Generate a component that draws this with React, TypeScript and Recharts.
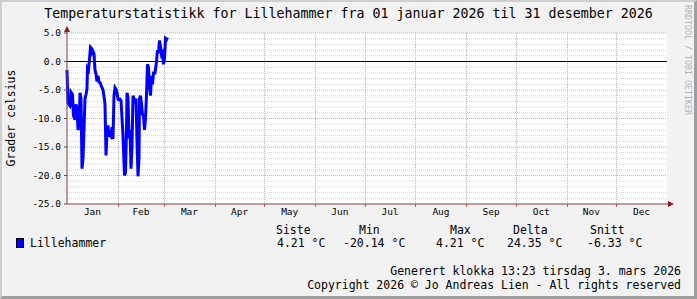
import React from 'react'
import { LineChart, Line, XAxis, YAxis, ReferenceLine, ReferenceDot, ReferenceArea } from 'recharts'

// day of year (0 = 1 Jan) and consolidated temperature readings
const days = [
  0, 0.3, 0.61, 1.83, 2.13, 2.43, 3.35, 3.95, 4.87, 5.48, 6.08, 6.69, 7.3, 7.91, 8.52, 9.13, 9.73,
  10.34, 10.95, 11.56, 12.17, 12.47, 13.08, 13.69, 14.3, 14.9, 15.21, 15.82, 16.43, 17.03, 17.64,
  18.25, 18.86, 19.47, 20.08, 21.29, 21.9, 22.81, 23.12, 23.73, 24.33, 24.94, 25.55, 26.16, 26.77,
  27.38, 27.98, 28.59, 29.2, 29.81, 30.42, 31.03, 31.63, 32.24, 32.85, 34.07, 34.98, 35.59, 36.2,
  36.5, 37.11, 37.72, 38.33, 38.93, 39.54, 40.15, 40.76, 41.37, 41.98, 42.58, 43.19, 43.8, 44.1,
  44.71, 45.32, 45.93, 46.54, 47.15, 47.75, 48.36, 48.97, 49.58, 50.19, 50.8, 51.4, 52.01, 52.62,
  53.53, 54.45, 55.06, 55.66, 56.27, 56.88, 57.49, 58.1, 58.71, 59.31, 59.92, 60.53, 61.14,
]
const temps = [
  -1.5, -4.5, -7.3, -7.8, -7.5, -5.4, -5.8, -9.5, -10.2, -7.5, -8.2, -12, -11.5, -5.5, -6.5, -18.8, -17,
  -12, -6.5, -5.8, -4.8, -1.2, -1.5, 0.5, 2.5, 2.3, 1.5, 1.8, 1.4, -1.5, -2.2,
  -3.5, -2.5, -3.6, -3.7, -4.6, -5.0, -6.7, -7.5, -16.5, -12.5, -11.2, -13, -13, -13.2,
  -11.5, -13.6, -6, -4.6, -4.9, -5.5, -6.6, -6.7, -6.6, -6.8, -13, -20, -19.5, -12,
  -5.5, -6.3, -13.5, -12, -18.8, -15, -6, -6.5, -7.3, -6.5, -14, -20.14, -17, -6.5,
  -6, -7.5, -9.3, -9.6, -12, -10, -5.8, -0.5, -1, -4.5, -6, -2.5, -4, -2,
  -2, 0, 2, 1.5, 3.7, 2.5, 1.2, 1.5, -0.5, 0.5, 4, 3.8, 4.21,
]

const monthStarts = [0, 31, 59, 90, 120, 151, 181, 212, 243, 273, 304, 334]
const monthMids = [15.5, 45, 74.5, 105, 135.5, 166, 196.5, 227.5, 258, 288.5, 319, 349.5]
const monthNames = ['Jan', 'Feb', 'Mar', 'Apr', 'May', 'Jun', 'Jul', 'Aug', 'Sep', 'Oct', 'Nov', 'Dec']
const majorTicks = [-25, -20, -15, -10, -5, 0, 5]
const minorTicks = [
  -24, -23, -22, -21, -19, -18, -17, -16, -14, -13, -12, -11, -9, -8, -7, -6, -4, -3, -2, -1, 1, 2, 3, 4,
]

const statHeaders = ['Siste', 'Min', 'Max', 'Delta', 'Snitt']
const statValues = ['4.21 °C', '-20.14 °C', '4.21 °C', '24.35 °C', '-6.33 °C']
const headerX = [276, 359, 450, 513, 590]
const valueX = [277, 343, 436, 507, 587]

const data = days.map((d, i) => ({ day: d, temp: temps[i] }))

const FONT = '"DejaVu Sans Mono", monospace'
const AXIS = '#7a4040'
const ARROW = '#8b1c1c'
const MGRID = '#eba0a0'
const GRID = '#d6d6d6'

const UpArrow = (props: any) => {
  const { cx, cy } = props
  return (
    <g>
      <line x1={cx} y1={cy} x2={cx} y2={cy - 3} stroke={AXIS} />
      <polygon points={`${cx - 3},${cy - 1} ${cx + 3},${cy - 1} ${cx},${cy - 7}`} fill={ARROW} />
    </g>
  )
}

const RightArrow = (props: any) => {
  const { cx, cy } = props
  return (
    <g>
      <line x1={cx} y1={cy} x2={cx + 2} y2={cy} stroke={AXIS} />
      <polygon points={`${cx + 1},${cy - 3} ${cx + 1},${cy + 3} ${cx + 7},${cy}`} fill={ARROW} />
    </g>
  )
}

// month grid line: a thin reference area drawn as a dotted line on its left edge
const MonthLine = (props: any) => {
  const { x, y, height } = props
  const px = Math.round(x) + 0.5
  return (
    <g>
      <line x1={px} x2={px} y1={y} y2={y + height} stroke={MGRID} strokeDasharray="1 1" />
      <line x1={px} x2={px} y1={y + height} y2={y + height + 3} stroke="#c86060" />
    </g>
  )
}

const txt = (left: number, top: number, s: string, size = 11.5, extra: React.CSSProperties = {}) => (
  <div
    style={{
      position: 'absolute',
      left,
      top,
      fontFamily: FONT,
      fontSize: size,
      lineHeight: '13px',
      whiteSpace: 'pre',
      color: '#000',
      ...extra,
    }}
  >
    {s}
  </div>
)

export default function App() {
  return (
    <div
      style={{
        position: 'absolute',
        left: 0,
        top: 0,
        width: 697,
        height: 299,
        background: '#f2f2f2',
        overflow: 'hidden',
      }}
    >
      {/* white canvas behind the plot area */}
      <div style={{ position: 'absolute', left: 67, top: 33, width: 600, height: 171, background: '#ffffff' }} />

      <LineChart width={697} height={299} data={data} margin={{ top: 33, right: 30, bottom: 74, left: 0 }}>
        <XAxis
          xAxisId="a"
          dataKey="day"
          type="number"
          domain={[0, 365]}
          ticks={monthStarts}
          tick={false}
          tickLine={false}
          height={1}
          stroke={AXIS}
        />
        <XAxis
          xAxisId="b"
          dataKey="day"
          type="number"
          domain={[0, 365]}
          ticks={monthMids}
          tickFormatter={(v: number) => monthNames[monthMids.indexOf(v)]}
          axisLine={false}
          tickLine={false}
          tickSize={0}
          tickMargin={3}
          height={20}
          interval={0}
          tick={{ fontFamily: FONT, fontSize: 9.5, fill: '#000' }}
        />
        <YAxis
          type="number"
          domain={[-25, 5]}
          ticks={majorTicks}
          width={67}
          interval={0}
          stroke={AXIS}
          tickSize={3}
          tickMargin={3}
          tickFormatter={(v: number) => v.toFixed(1)}
          tick={{ fontFamily: FONT, fontSize: 9.5, fill: '#000' }}
        />
        {monthStarts.slice(1).map((d) => (
          <ReferenceArea
            key={'v' + d}
            xAxisId="a"
            x1={d}
            x2={d + 1}
            y1={-25}
            y2={5}
            ifOverflow="visible"
            shape={MonthLine}
          />
        ))}
        {minorTicks.map((v) => (
          <ReferenceLine key={'n' + v} xAxisId="a" y={v} stroke={GRID} strokeDasharray="1 1" />
        ))}
        {majorTicks.slice(1).map((v) => (
          <ReferenceLine key={'m' + v} xAxisId="a" y={v} stroke={MGRID} strokeDasharray="1 1" />
        ))}
        <ReferenceLine xAxisId="a" y={0} stroke="#000" strokeWidth={1} />
        <Line
          xAxisId="a"
          dataKey="temp"
          stroke="#0000ff"
          strokeWidth={3}
          dot={false}
          isAnimationActive={false}
        />
        <ReferenceDot xAxisId="a" x={0} y={5} ifOverflow="visible" shape={UpArrow} />
        <ReferenceDot xAxisId="a" x={365} y={-25} ifOverflow="visible" shape={RightArrow} />
      </LineChart>

      {/* title */}
      <div
        style={{
          position: 'absolute',
          left: 0,
          width: 697,
          top: 6,
          textAlign: 'center',
          fontFamily: FONT,
          fontSize: 13.3,
          lineHeight: '16px',
          whiteSpace: 'pre',
        }}
      >
        Temperaturstatistikk for Lillehammer fra 01 januar 2026 til 31 desember 2026
      </div>

      {/* vertical axis label */}
      <div
        style={{
          position: 'absolute',
          left: 11,
          top: 118,
          transform: 'translate(-50%, -50%) rotate(-90deg)',
          fontFamily: FONT,
          fontSize: 11.5,
          whiteSpace: 'pre',
        }}
      >
        Grader celsius
      </div>

      {/* watermark */}
      <div
        style={{
          position: 'absolute',
          left: 688,
          top: 60,
          transform: 'translate(-50%, -50%) rotate(90deg)',
          fontFamily: FONT,
          fontSize: 8.3,
          color: '#b4b4b4',
          whiteSpace: 'pre',
        }}
      >
        RRDTOOL / TOBI OETIKER
      </div>

      {/* legend */}
      {statHeaders.map((h, i) => <React.Fragment key={h}>{txt(headerX[i], 224, h)}</React.Fragment>)}
      <div
        style={{
          position: 'absolute',
          left: 16,
          top: 238,
          width: 6,
          height: 8,
          background: '#0000ff',
          border: '1px solid #000',
        }}
      />
      {txt(30, 237, 'Lillehammer')}
      {statValues.map((v, i) => <React.Fragment key={i}>{txt(valueX[i], 237, v)}</React.Fragment>)}

      {/* footer */}
      {txt(0, 265, 'Generert klokka 13:23 tirsdag 3. mars 2026', 11.5, { left: 'auto', right: 16 })}
      {txt(0, 279, 'Copyright 2026 © Jo Andreas Lien - All rights reserved', 11.5, { left: 'auto', right: 16 })}

      {/* 3d frame */}
      <div
        style={{
          position: 'absolute',
          inset: 0,
          boxSizing: 'border-box',
          borderTop: '2px solid #cfcfcf',
          borderLeft: '2px solid #cfcfcf',
          borderRight: '3px solid #9e9e9e',
          borderBottom: '3px solid #9e9e9e',
          pointerEvents: 'none',
        }}
      />
    </div>
  )
}
